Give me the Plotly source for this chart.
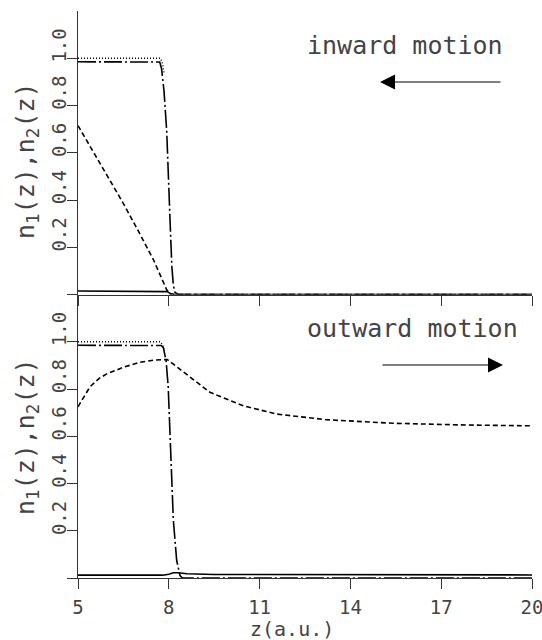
import plotly.graph_objects as go

# ---------------- data ----------------
# top panel: inward motion
z_top_dotted = [5.0, 7.72, 7.78, 7.84]
n_top_dotted = [1.0, 1.0, 0.985, 0.94]

z_top_dashdot = [5.0, 7.70, 7.76, 7.84, 7.93, 7.98, 8.02, 8.06, 8.10, 8.15, 8.20, 8.30, 20.0]
n_top_dashdot = [0.985, 0.984, 0.956, 0.864, 0.694, 0.55, 0.41, 0.25, 0.12, 0.04, 0.01, 0.0, 0.0]

z_top_dashed = [5.0, 5.5, 6.0, 6.5, 7.0, 7.5, 7.93, 8.05, 20.0]
n_top_dashed = [0.715, 0.605, 0.496, 0.385, 0.267, 0.145, 0.02, 0.0, 0.0]

z_top_solid = [5.0, 7.8, 7.95, 8.05, 8.2, 20.0]
n_top_solid = [0.015, 0.015, 0.012, 0.004, 0.0, 0.0]

# bottom panel: outward motion
z_bot_dotted = [5.0, 7.72, 7.80, 7.86]
n_bot_dotted = [1.0, 1.0, 0.985, 0.96]

z_bot_dashdot = [5.0, 7.75, 7.82, 7.91, 7.98, 8.06, 8.15, 8.26, 8.37, 8.45, 20.0]
n_bot_dashdot = [0.985, 0.984, 0.975, 0.92, 0.81, 0.53, 0.245, 0.075, 0.01, 0.0, 0.0]

z_bot_dashed = [5.0, 5.18, 5.4, 5.7, 5.95, 6.5, 7.05, 7.5, 7.95, 8.3, 8.8, 9.36, 10.46,
                11.56, 13.2, 15.42, 17.62, 20.0]
n_bot_dashed = [0.725, 0.765, 0.81, 0.845, 0.864, 0.892, 0.913, 0.922, 0.925, 0.89, 0.84,
                0.786, 0.729, 0.694, 0.67, 0.655, 0.648, 0.644]

z_bot_solid = [5.0, 7.8, 8.0, 8.15, 8.3, 8.6, 9.5, 20.0]
n_bot_solid = [0.012, 0.012, 0.016, 0.022, 0.022, 0.018, 0.015, 0.013]

x_tickvals = [5, 8, 11, 14, 17, 20]
x_ticktext = ["5", "8", "11", "14", "17", "20"]
y_tickvals = [0, 0.2, 0.4, 0.6, 0.8, 1.0]
y_ticktext = ["", "0.2", "0.4", "0.6", "0.8", "1.0"]

y_title = "n<sub>1</sub>(z),n<sub>2</sub>(z)"
x_title = "z(a.u.)"
label_top = "inward motion"
label_bot = "outward motion"

# ---------------- figure ----------------
FONT = "DejaVu Sans Mono"
TXT = "#444444"
LINE_W = 1.6

fig = go.Figure()

def add_set(xa, ya, zd, nd, zdd, ndd, zda, nda, zs, ns):
    fig.add_trace(go.Scatter(x=zd, y=nd, xaxis=xa, yaxis=ya, mode="lines",
                             line=dict(color="black", width=1.4, dash="1px,2px")))
    fig.add_trace(go.Scatter(x=zdd, y=ndd, xaxis=xa, yaxis=ya, mode="lines",
                             line=dict(color="black", width=LINE_W, dash="18px,3px,2px,3px")))
    fig.add_trace(go.Scatter(x=zda, y=nda, xaxis=xa, yaxis=ya, mode="lines",
                             line=dict(color="black", width=LINE_W, dash="5px,3px")))
    fig.add_trace(go.Scatter(x=zs, y=ns, xaxis=xa, yaxis=ya, mode="lines",
                             line=dict(color="black", width=LINE_W)))

add_set("x", "y", z_top_dotted, n_top_dotted, z_top_dashdot, n_top_dashdot,
        z_top_dashed, n_top_dashed, z_top_solid, n_top_solid)
add_set("x2", "y2", z_bot_dotted, n_bot_dotted, z_bot_dashdot, n_bot_dashdot,
        z_bot_dashed, n_bot_dashed, z_bot_solid, n_bot_solid)

xcommon = dict(range=[5, 20], showgrid=False, zeroline=False, showline=True,
               linecolor="#333333", linewidth=1, ticks="outside", ticklen=10,
               tickcolor="#333333", tickwidth=1, tickvals=x_tickvals,
               ticklabeloverflow="allow", ticklabelstandoff=2, automargin=False,
               tickfont=dict(family=FONT, size=19, color=TXT))
ycommon = dict(range=[0, 1.2], showgrid=False, zeroline=False, showline=True,
               linecolor="#333333", linewidth=1, ticks="outside", ticklen=10,
               tickcolor="#333333", tickwidth=1, tickvals=y_tickvals, ticktext=y_ticktext,
               tickangle=-90, ticklabelshift=-10, ticklabelstandoff=-7, automargin=False,
               tickfont=dict(family=FONT, size=19, color=TXT))

fig.update_layout(
    width=542, height=640,
    margin=dict(l=78, r=10, t=11, b=62),
    paper_bgcolor="white", plot_bgcolor="white",
    showlegend=False,
    xaxis=dict(**xcommon, anchor="y", showticklabels=False),
    yaxis=dict(**ycommon, domain=[0.5, 1.0], anchor="x"),
    xaxis2=dict(**xcommon, anchor="y2", ticktext=x_ticktext),
    yaxis2=dict(**ycommon, domain=[0.0, 0.5], anchor="x2"),
)

ann = []
# y-axis titles (rotated)
for ycen in [(578 - 161) / 567, (578 - 437) / 567]:
    ann.append(dict(text=y_title, xref="paper", yref="paper", x=-(78 - 27) / 454, y=ycen,
                    xanchor="center", yanchor="middle", textangle=-90, showarrow=False,
                    font=dict(family=FONT, size=25, color=TXT)))
# x-axis title
ann.append(dict(text=x_title, xref="paper", yref="paper", x=(292 - 78) / 454,
                y=-(629 - 578) / 567, xanchor="center", yanchor="middle",
                showarrow=False, font=dict(family=FONT, size=20, color=TXT)))
# panel labels
ann.append(dict(text=label_top, xref="paper", yref="paper", x=(405 - 78) / 454,
                y=(578 - 45) / 567, xanchor="center", yanchor="middle",
                showarrow=False, font=dict(family=FONT, size=25, color=TXT)))
ann.append(dict(text=label_bot, xref="paper", yref="paper", x=(412 - 78) / 454,
                y=(578 - 328) / 567, xanchor="center", yanchor="middle",
                showarrow=False, font=dict(family=FONT, size=25, color=TXT)))
# arrows
ann.append(dict(text="", xref="paper", yref="paper", x=(380 - 78) / 454,
                y=(578 - 82) / 567, ax=122, ay=0, axref="pixel", ayref="pixel",
                showarrow=True, arrowhead=2, arrowsize=2.5, arrowwidth=1.2,
                arrowcolor="black"))
ann.append(dict(text="", xref="paper", yref="paper", x=(503 - 78) / 454,
                y=(578 - 365) / 567, ax=-122, ay=0, axref="pixel", ayref="pixel",
                showarrow=True, arrowhead=2, arrowsize=2.5, arrowwidth=1.2,
                arrowcolor="black"))
fig.update_layout(annotations=ann)

fig.write_html("out.html")
